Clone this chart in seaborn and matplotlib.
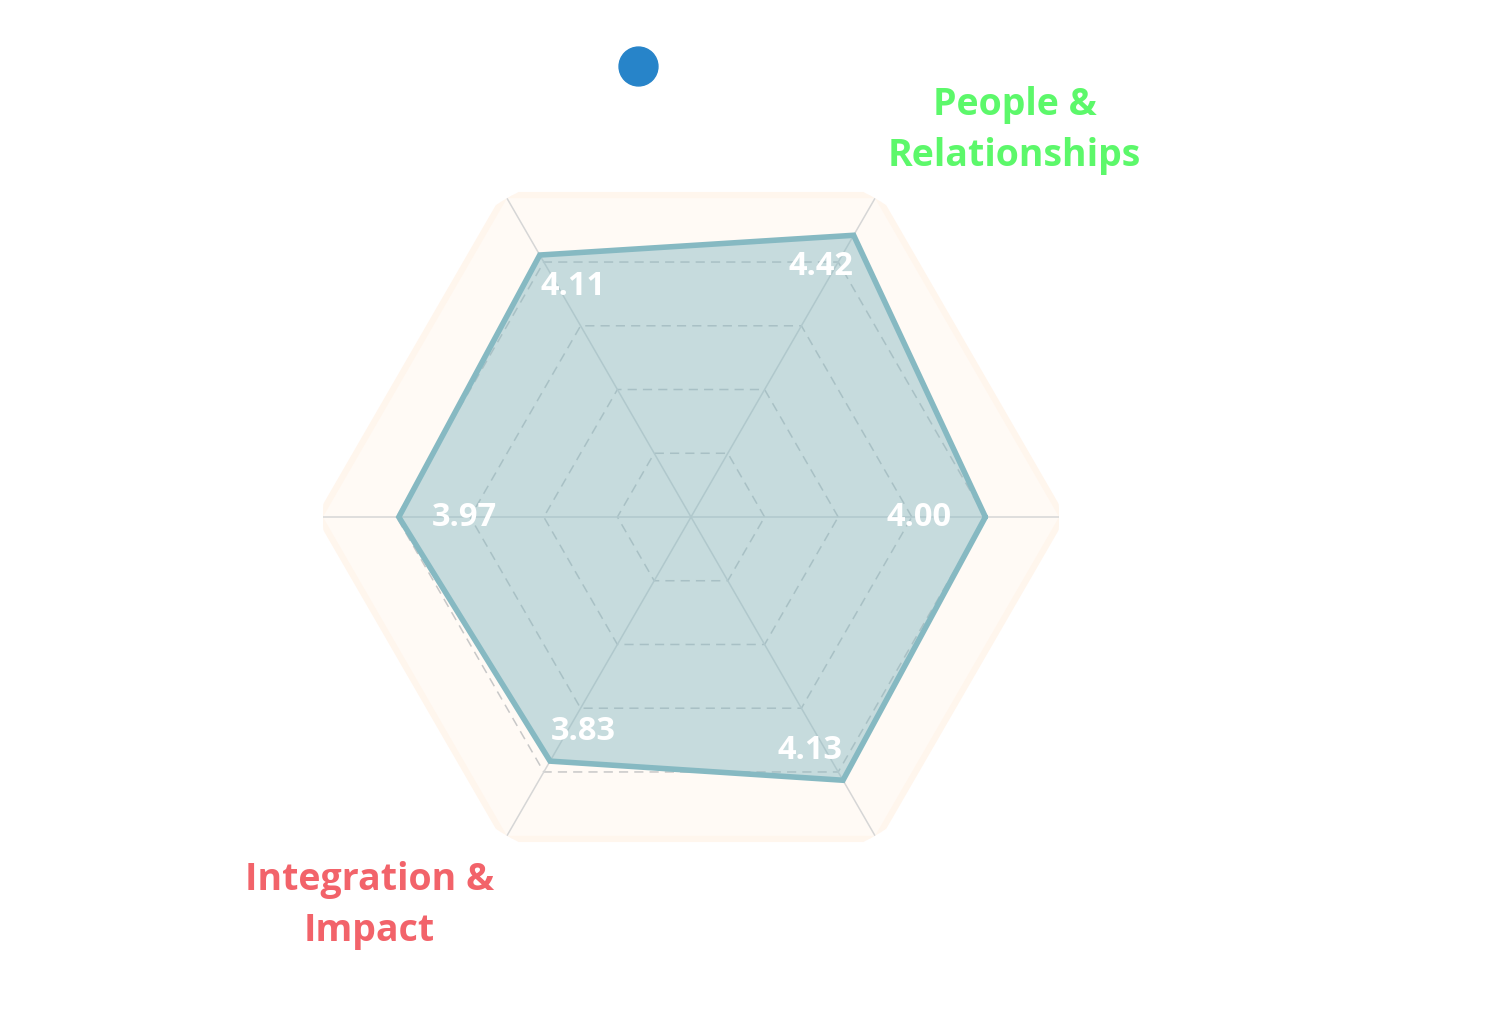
import numpy as np
import matplotlib
matplotlib.use("Agg")
import matplotlib.pyplot as plt
import seaborn as sns
from matplotlib.lines import Line2D

sns.set_theme(style="white")
plt.rcParams['font.family'] = ['Open Sans', 'DejaVu Sans']

# ---- data ----
axis_angles_deg = [0, 60, 120, 180, 240, 300]
values = [4.00, 4.42, 4.11, 3.97, 3.83, 4.13]
value_labels = ["4.00", "4.42", "4.11", "3.97", "3.83", "4.13"]
axis_titles = ["", "People &\nRelationships", "", "", "Integration &\nImpact", ""]
axis_title_colors = ["#ffffff", "#5cf86a", "#ffffff", "#ffffff", "#f2636a", "#ffffff"]
grid_levels = [1, 2, 3, 4]
r_max = 5

W, H = 1496, 1020
fig = plt.figure(figsize=(W / 100, H / 100), dpi=100)
cx, cy, R = 691, 518, 368
ax = fig.add_axes([(cx - R) / W, (H - cy - R) / H, 2 * R / W, 2 * R / H], projection="polar")
ax.set_ylim(0, r_max)
ax.set_theta_zero_location("E")
ax.set_theta_direction(1)
ax.grid(False)
ax.set_xticks([])
ax.set_yticks([])
ax.spines["polar"].set_visible(False)
ax.set_facecolor("none")

theta = np.deg2rad(axis_angles_deg)
theta_c = np.append(theta, theta[0])

# background hexagon
ax.fill(theta_c, [r_max * 1.01] * len(theta_c), color="#fffaf5", zorder=0)
ax.plot(theta_c, [r_max * 1.01] * len(theta_c), color="#fff6ed", lw=4.5, zorder=0.5)

# dashed rings
for lv in grid_levels:
    ax.plot(theta_c, [lv] * len(theta_c), color="#c8c8c8", lw=1.1, ls=(0, (6, 4)), zorder=1)

# radial axis lines
for t in theta:
    ax.plot([t, t], [0, r_max], color="#d6d6d6", lw=1.1, zorder=1)

# data polygon
vals_c = np.append(values, values[0])
ax.fill(theta_c, vals_c, color="#86b9c2", alpha=0.47, zorder=2, lw=0)
ax.plot(theta_c, vals_c, color="#86b9c2", lw=4.0, zorder=3, solid_joinstyle="miter")

# value labels
for t, v, lab in zip(theta, values, value_labels):
    ax.annotate(lab, xy=(t, v), xytext=(-66 * np.cos(t), -35 * np.sin(t)),
                textcoords="offset pixels", color="white", fontsize=23.5,
                fontweight="bold", ha="center", va="center", zorder=4)

# axis titles
for t, title, col in zip(theta, axis_titles, axis_title_colors):
    if not title:
        continue
    c, s = np.cos(t), np.sin(t)
    ha = "left" if c > 0.1 else ("right" if c < -0.1 else "center")
    va = "bottom" if s > 0.1 else ("top" if s < -0.1 else "center")
    ax.annotate(title, xy=(t, r_max), xytext=(13 * np.sign(c), 24 * np.sign(s)),
                textcoords="offset pixels", ha=ha, va=va, multialignment="center",
                color=col, fontsize=27, fontweight="bold", linespacing=1.47,
                annotation_clip=False)

# legend-style marker
fig.add_artist(Line2D([638 / W], [1 - 67 / H], transform=fig.transFigure,
                      marker="o", markersize=28, color="#2784c9", lw=0))

fig.savefig("out.png", dpi=100, facecolor="white")
